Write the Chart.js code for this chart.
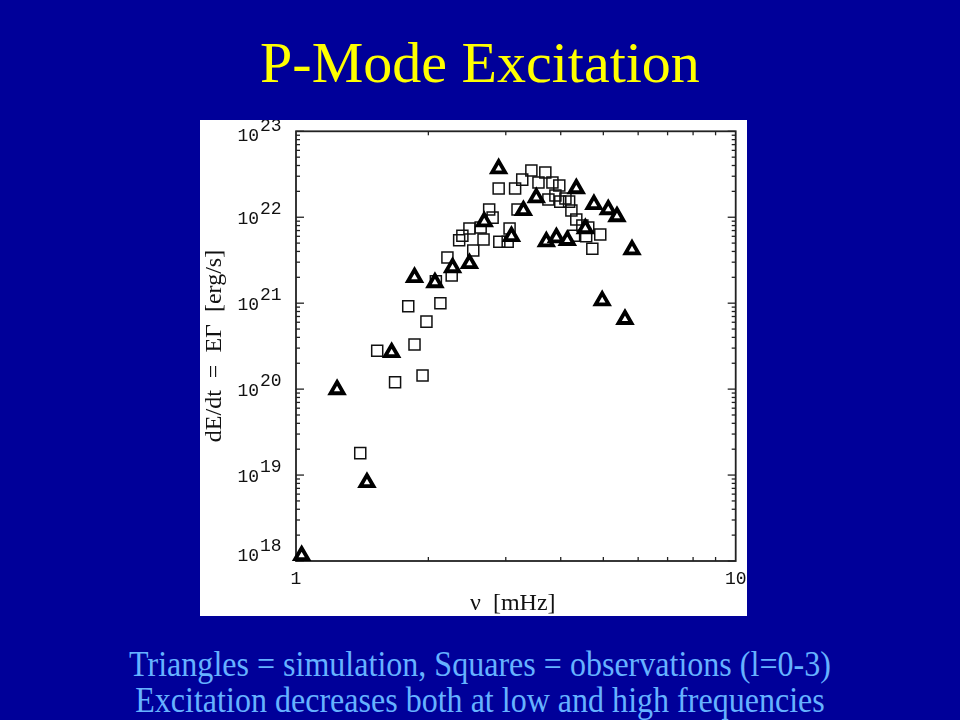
<!DOCTYPE html>
<html>
<head>
<meta charset="utf-8">
<title>P-Mode Excitation</title>
<script src="https://cdn.jsdelivr.net/npm/chart.js@4.4.0/dist/chart.umd.min.js"></script>
<style>
    body {
        margin: 0;
        width: 960px;
        height: 720px;
        overflow: hidden;
        position: relative;
        background: #000099;
        font-family: "Liberation Serif", serif;
    }
    #titulo {
        position: absolute;
        left: 0;
        top: 34px;
        width: 960px;
        text-align: center;
        color: #ffff00;
        font-size: 58px;
        line-height: 58px;
    }
    #panel {
        position: absolute;
        left: 200px;
        top: 120px;
        width: 547px;
        height: 496px;
        background: #ffffff;
    }
    .nota {
        position: absolute;
        left: 0;
        width: 960px;
        text-align: center;
        color: #66b2ff;
        font-size: 36px;
        line-height: 36px;
        transform: scaleX(0.89);
        white-space: nowrap;
    }
</style>
</head>
<body>
<div id="titulo">P-Mode Excitation</div>
<div id="panel"><canvas id="grafico" width="547" height="496"></canvas></div>
<div class="nota" style="top:646px">Triangles = simulation, Squares = observations (l=0-3)</div>
<div class="nota" style="top:682px">Excitation decreases both at low and high frequencies</div>

<script>
// simulacion (triangulos): frecuencia [mHz] y dE/dt [erg/s]
var frecSim = [1.03, 1.24, 1.45, 1.65, 1.86, 2.07, 2.27, 2.48, 2.68, 2.89, 3.09, 3.29,
    3.52, 3.71, 3.91, 4.14, 4.34, 4.55, 4.76, 4.97, 5.13, 5.37, 5.60, 5.81];
var energiaSim = [1.16e18, 9.9e19, 8.2e18, 2.67e20, 2.0e21, 1.74e21, 2.6e21, 2.9e21, 8.9e21, 3.68e22, 6.0e21, 1.2e22,
    1.69e22, 5.2e21, 5.8e21, 5.4e21, 2.16e22, 7.4e21, 1.41e22, 1.07e21, 1.23e22, 1.02e22, 6.5e20, 4.2e21];

// observaciones (cuadrados, l=0-3)
var frecObs = [1.40, 1.53, 1.68, 1.80, 1.86, 1.94, 1.98, 2.08, 2.13, 2.21, 2.26, 2.35, 2.39, 2.48, 2.53,
    2.63, 2.67, 2.75, 2.80, 2.89, 2.90, 3.03, 3.06, 3.15, 3.19, 3.27, 3.43, 3.56, 3.69, 3.75, 3.83,
    3.89, 3.97, 3.99, 4.10, 4.18, 4.23, 4.29, 4.34, 4.48, 4.57, 4.62, 4.72, 4.92];
var energiaObs = [1.8e19, 2.8e20, 1.2e20, 9.2e20, 3.3e20, 1.44e20, 6.1e20, 1.8e21, 1.0e21, 3.4e21, 2.1e21, 5.4e21, 6.1e21, 7.4e21, 4.1e21,
    7.6e21, 5.5e21, 1.23e22, 9.9e21, 2.16e22, 5.2e21, 5.2e21, 7.4e21, 2.16e22, 1.23e22, 2.74e22, 3.49e22, 2.53e22, 3.31e22, 1.61e22, 2.53e22,
    1.79e22, 2.34e22, 1.52e22, 1.65e22, 1.52e22, 1.2e22, 6.1e21, 9.4e21, 8.0e21, 6.0e21, 7.6e21, 4.3e21, 6.3e21];

// marcas de los ejes
var exponentesY = [18, 19, 20, 21, 22, 23];
var marcasX = [1, 10];
var menoresX = [2, 3, 4, 5, 6, 7, 8, 9];
var menoresY = [2, 3, 4, 5, 6, 7, 8, 9];

var tituloX = '\u03bd  [mHz]';
var tituloY = 'dE/dt  =  E\u0393  [erg/s]';

function armarPuntos(xs, ys) {
    var puntos = new Array();
    for (var i = 0; i < xs.length; i++) {
        puntos.push({ x: xs[i], y: ys[i] });
    }
    return puntos;
}

function linea(ctx, x1, y1, x2, y2) {
    ctx.beginPath();
    ctx.moveTo(x1, y1);
    ctx.lineTo(x2, y2);
    ctx.stroke();
}

// dibuja el marco con marcas hacia adentro y las etiquetas 10^n
const marcoEjes = {
    id: 'marcoEjes',
    beforeDatasetsDraw(chart) {
        var ctx = chart.ctx;
        var a = chart.chartArea;
        var ex = chart.scales.x;
        var ey = chart.scales.y;
        ctx.save();
        ctx.strokeStyle = '#222';
        ctx.lineWidth = 1.8;
        ctx.strokeRect(a.left, a.top, a.right - a.left, a.bottom - a.top);

        ctx.lineWidth = 1.3;
        exponentesY.forEach(function (e) {
            var py = ey.getPixelForValue(Math.pow(10, e));
            linea(ctx, a.left, py, a.left + 8, py);
            linea(ctx, a.right, py, a.right - 8, py);
            if (e < 23) {
                menoresY.forEach(function (m) {
                    var pm = ey.getPixelForValue(m * Math.pow(10, e));
                    linea(ctx, a.left, pm, a.left + 4, pm);
                    linea(ctx, a.right, pm, a.right - 4, pm);
                });
            }
        });
        menoresX.forEach(function (m) {
            var px = ex.getPixelForValue(m);
            linea(ctx, px, a.bottom, px, a.bottom - 4);
            linea(ctx, px, a.top, px, a.top + 4);
        });

        // etiquetas
        ctx.fillStyle = '#111';
        ctx.font = '18px "Liberation Mono"';
        ctx.textBaseline = 'middle';
        exponentesY.forEach(function (e) {
            var py = ey.getPixelForValue(Math.pow(10, e));
            var yb = Math.min(Math.max(py + 2, a.top + 5), a.bottom - 5);
            ctx.textAlign = 'right';
            ctx.fillText('10', a.left - 37, yb);
            ctx.textAlign = 'left';
            ctx.fillText(String(e), a.left - 36, yb - 10);
        });
        ctx.textAlign = 'center';
        marcasX.forEach(function (v) {
            ctx.fillText(String(v), ex.getPixelForValue(v), a.bottom + 18);
        });

        ctx.font = '24px "Liberation Serif"';
        ctx.textBaseline = 'alphabetic';
        ctx.fillText(tituloX, (a.left + a.right) / 2 - 3, a.bottom + 49);
        ctx.save();
        ctx.translate(21, 226);
        ctx.rotate(-Math.PI / 2);
        ctx.fillText(tituloY, 0, 0);
        ctx.restore();
        ctx.restore();
    }
};

const grafico = new Chart('grafico', {
    type: 'scatter',
    data: {
        datasets: [{
            label: 'Simulation',
            data: armarPuntos(frecSim, energiaSim),
            pointStyle: 'triangle',
            pointRadius: 7.5,
            pointBorderWidth: 3.8,
            pointBorderColor: '#000',
            pointBackgroundColor: '#fff',
            order: 0,
            clip: false
        }, {
            label: 'Observations',
            data: armarPuntos(frecObs, energiaObs),
            pointStyle: 'rect',
            pointRadius: 7.8,
            pointBorderWidth: 1.5,
            pointBorderColor: '#111',
            pointBackgroundColor: 'rgba(255,255,255,0)',
            order: 1,
            clip: false
        }]
    },
    options: {
        responsive: false,
        animation: false,
        events: [],
        layout: { padding: { left: 96, top: 11, right: 10, bottom: 55 } },
        plugins: { legend: { display: false }, tooltip: { enabled: false } },
        scales: {
            x: { type: 'logarithmic', min: 1, max: 10, display: false },
            y: { type: 'logarithmic', min: 1e18, max: 1e23, display: false }
        }
    },
    plugins: [marcoEjes]
});
</script>
</body>
</html>
